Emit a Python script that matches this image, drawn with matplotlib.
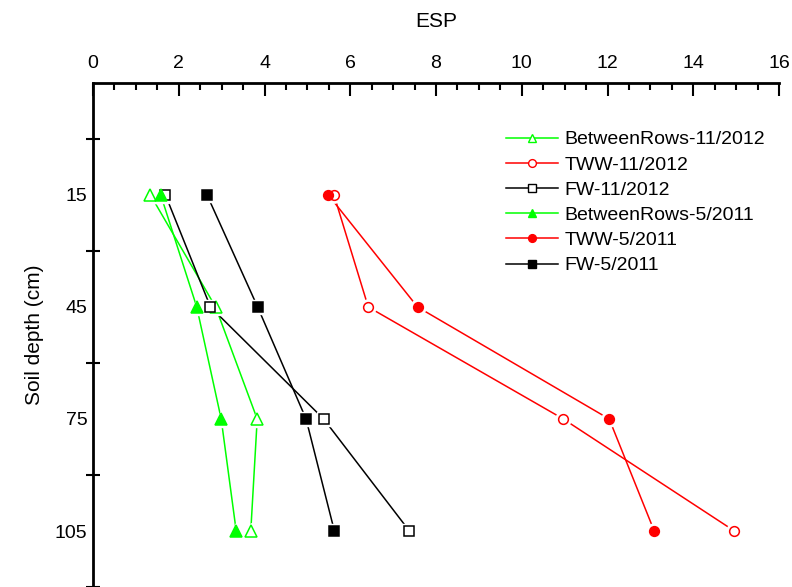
import numpy as np
import matplotlib.pyplot as plt
from matplotlib.ticker import MultipleLocator, FixedLocator, NullFormatter

plt.rcParams['font.family'] = ['Liberation Sans', 'DejaVu Sans']

# Data
depth = [15, 45, 75, 105]
br_2012 = [1.34, 2.86, 3.83, 3.68]
tww_2012 = [5.62, 6.42, 10.97, 14.96]
fw_2012 = [1.69, 2.74, 5.38, 7.38]
br_2011 = [1.58, 2.42, 2.99, 3.34]
tww_2011 = [5.49, 7.57, 12.04, 13.09]
fw_2011 = [2.66, 3.84, 4.97, 5.63]

series = [
    ("BetweenRows-11/2012", br_2012, "#00ff00", "^", False, 8),
    ("TWW-11/2012", tww_2012, "red", "o", False, 7),
    ("FW-11/2012", fw_2012, "black", "s", False, 6.5),
    ("BetweenRows-5/2011", br_2011, "#00ff00", "^", True, 8),
    ("TWW-5/2011", tww_2011, "red", "o", True, 7),
    ("FW-5/2011", fw_2011, "black", "s", True, 6.5),
]

fig = plt.figure(figsize=(7.92, 5.87), dpi=100)
ax = fig.add_axes([93/792, 0, (779-93)/792, (587-83)/587])

handles = []
for name, vals, c, m, filled, ms in series:
    ax.plot(vals, depth, color=c, lw=1.1, zorder=2)
    # white halo so the line stops short of the marker
    ax.plot(vals, depth, ls='none', marker=m, ms=ms+4, mfc='white', mec='white', zorder=3)
    fc = c if filled else 'white'
    ax.plot(vals, depth, ls='none', marker=m, ms=ms, mfc=fc, mec=c, mew=1.1, zorder=4)
    h, = ax.plot([], [], color=c, lw=1.1, marker=m, ms=ms*0.8, mfc=fc, mec=c, mew=1.0, label=name)
    handles.append(h)

ax.set_xlim(0, 16)
ax.set_ylim(120, -15)

ax.xaxis.tick_top()
ax.xaxis.set_label_position('top')
ax.xaxis.set_major_locator(MultipleLocator(2))
ax.xaxis.set_minor_locator(MultipleLocator(0.5))
ax.tick_params(axis='x', which='major', direction='in', length=9, width=1.5, labelsize=14, pad=8)
ax.tick_params(axis='x', which='minor', direction='in', length=5, width=1.5)

ax.yaxis.set_major_locator(FixedLocator([0, 30, 60, 90, 120]))
ax.yaxis.set_major_formatter(NullFormatter())
ax.yaxis.set_minor_locator(FixedLocator(depth))
ax.yaxis.set_minor_formatter(plt.FixedFormatter([str(d) for d in depth]))
ax.tick_params(axis='y', which='major', direction='inout', length=10, width=1.5)
ax.tick_params(axis='y', which='minor', length=0, labelsize=14, pad=4)

for s in ['right', 'bottom']:
    ax.spines[s].set_visible(False)
for s in ['top', 'left']:
    ax.spines[s].set_linewidth(2)

ax.set_xlabel("ESP", fontsize=15, labelpad=20)
ax.set_ylabel("Soil depth (cm)", fontsize=15, labelpad=8)

ax.legend(handles=handles, loc='upper right', bbox_to_anchor=(1.005, 0.94), frameon=False,
          fontsize=14, handlelength=2.7, labelspacing=0.39, handletextpad=0.3)

fig.savefig("out.png", dpi=100)
